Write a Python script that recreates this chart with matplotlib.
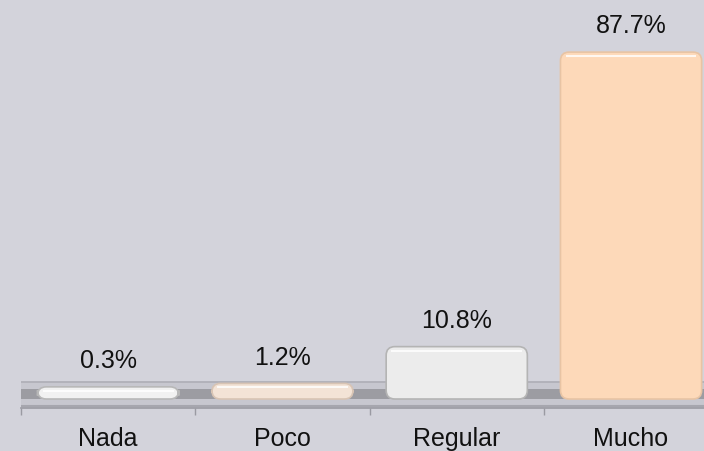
import matplotlib.pyplot as plt
from matplotlib.patches import FancyBboxPatch

categories = ['Nada', 'Poco', 'Regular', 'Mucho']
values = [0.3, 1.2, 10.8, 87.7]
value_labels = ['0.3%', '1.2%', '10.8%', '87.7%']
bar_colors = ['#f1f1f1', '#f3e3d6', '#ececec', '#fdd9b9']
edge_colors = ['#b8b8b8', '#d8c4b4', '#b4b4b4', '#e8c4a4']

bg = '#d3d3db'
px_per_unit = 3.83   # vertical pixels for one percent
cap = 11 / px_per_unit   # bars start a bit under zero (3D floor look)

fig = plt.figure(figsize=(7.04, 4.51), dpi=100, facecolor=bg)
ax = fig.add_axes([21 / 704, 43 / 451, 683 / 704, 408 / 451])
ax.set_facecolor(bg)
ax.set_xlim(-0.5, -0.5 + 683 / 174.3)
ax.set_ylim(-20 / px_per_unit, 388 / px_per_unit)

# floor strip
ax.axhspan(-20 / px_per_unit, 6 / px_per_unit, color='#c7c7cf', zorder=1)
ax.axhline(6 / px_per_unit, color='#aeaeb6', lw=1.2, zorder=1.1)
ax.axhspan(-11 / px_per_unit, -1 / px_per_unit, color='#8e8e94', alpha=0.75, zorder=1.2, lw=0)
ax.axhline(-18 / px_per_unit, color='#a6a6ae', lw=1.5, zorder=1.1)

x = list(range(len(categories)))
bars = ax.bar(x, [v + cap for v in values], bottom=-cap, width=0.81)
for r, fc, ec in zip(bars, bar_colors, edge_colors):
    r.set_visible(False)
    box = FancyBboxPatch((r.get_x(), r.get_y()), r.get_width(), r.get_height(),
                         boxstyle='round,pad=0,rounding_size=0.05',
                         mutation_aspect=174.3 / px_per_unit,
                         facecolor=fc, edgecolor=ec, lw=1.2, zorder=3)
    ax.add_patch(box)
    # light highlight near the top of each bar
    top = r.get_y() + r.get_height()
    ax.hlines(top - 4 / px_per_unit, r.get_x() + 0.03, r.get_x() + r.get_width() - 0.03,
              color='white', lw=1.5, alpha=0.8, zorder=4)

for xi, v, lab in zip(x, values, value_labels):
    ax.annotate(lab, (xi, v), xytext=(0, 10), textcoords='offset points',
                ha='center', va='bottom', fontsize=18, color='#111111')

for s in ['top', 'right', 'left']:
    ax.spines[s].set_visible(False)
ax.spines['bottom'].set_color('#9a9aa2')
ax.spines['bottom'].set_linewidth(1.2)

ax.set_yticks([])
ax.set_xticks(x)
ax.set_xticklabels(categories, fontsize=18, color='#111111')
ax.tick_params(axis='x', which='major', length=0, pad=14)
ax.set_xticks([-0.5, 0.5, 1.5, 2.5], minor=True)
ax.tick_params(axis='x', which='minor', length=5, width=1, color='#9a9aa2')

for t in ax.texts + ax.get_xticklabels():
    t.set_family(['Liberation Sans', 'DejaVu Sans'])

fig.savefig('out.png', dpi=100, facecolor=bg)
